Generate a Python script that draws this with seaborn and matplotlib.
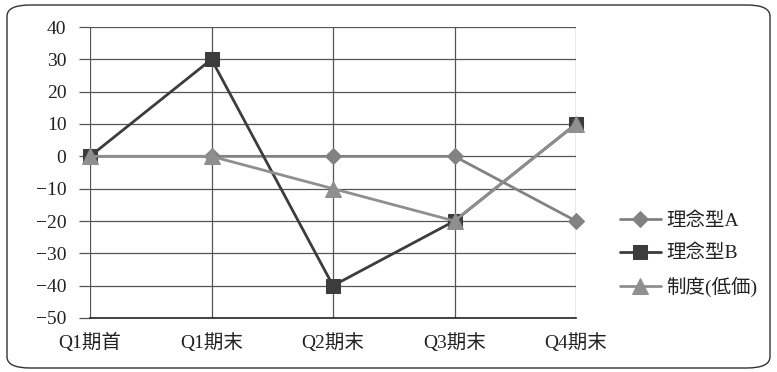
import matplotlib
matplotlib.use("Agg")
import matplotlib.pyplot as plt
from matplotlib.patches import FancyBboxPatch
import seaborn as sns
import pandas as pd

categories = ["Q1期首", "Q1期末", "Q2期末", "Q3期末", "Q4期末"]
series_a = [0, 0, 0, 0, -20]
series_b = [0, 30, -40, -20, 10]
series_c = [0, 0, -10, -20, 10]
names = ["理念型A", "理念型B", "制度(低価)"]
y_ticks = [40, 30, 20, 10, 0, -10, -20, -30, -40, -50]

sns.set_theme(style="white")
plt.rcParams["font.family"] = ["Liberation Serif", "Noto Sans CJK JP"]
plt.rcParams["axes.unicode_minus"] = True

fig = plt.figure(figsize=(7.77, 3.72), dpi=100)
fig.patch.set_facecolor("white")
ax = fig.add_axes([90 / 777, 1 - 318 / 372, (576 - 90) / 777, (318 - 27) / 372])

border = FancyBboxPatch((7 / 777, 4 / 372), (770 - 7) / 777, (367 - 4) / 372,
                        boxstyle="round,pad=0,rounding_size=0.03",
                        transform=fig.transFigure, fill=False,
                        edgecolor="#333333", linewidth=1.0, zorder=0)
fig.patches.append(border)

df = pd.DataFrame({
    "x": list(range(len(categories))) * 3,
    "y": series_a + series_b + series_c,
    "s": [names[0]] * 5 + [names[1]] * 5 + [names[2]] * 5,
})

styles = [
    (names[0], "#828282", "D", 8),
    (names[1], "#3c3c3c", "s", 10.5),
    (names[2], "#8f8f8f", "^", 11.5),
]
for name, color, marker, ms in styles:
    sub = df[df["s"] == name]
    sns.lineplot(data=sub, x="x", y="y", ax=ax, color=color, marker=marker,
                 markersize=ms, markeredgecolor=color, linewidth=2,
                 label=name, sort=False, zorder=3)
for line in ax.get_lines():
    line.set_clip_on(False)

ax.set_xlim(0, 4)
ax.set_ylim(-50, 40)
ax.set_yticks(y_ticks)
ax.set_yticklabels([("−" + str(-v)) if v < 0 else str(v) for v in y_ticks])
ax.set_xticks(range(len(categories)))
ax.set_xticklabels(categories)
ax.set_xlabel("")
ax.set_ylabel("")
ax.grid(True, color="#555555", linewidth=0.9)
ax.set_axisbelow(True)
for side in ["top", "right", "left"]:
    ax.spines[side].set_visible(False)
ax.spines["bottom"].set_color("#222222")
ax.spines["bottom"].set_linewidth(1.2)
ax.tick_params(axis="y", length=8, width=0.9, color="#555555", labelsize=14, pad=9, left=True)
ax.tick_params(axis="x", length=0, labelsize=14, pad=11)
for lbl in ax.get_yticklabels() + ax.get_xticklabels():
    lbl.set_color("#222222")

leg = ax.legend(loc="center left", bbox_to_anchor=(612 / 777, 1 - 255 / 372),
                bbox_transform=fig.transFigure, frameon=False, fontsize=14,
                handlelength=2.1, labelspacing=0.75, handletextpad=0.3, borderaxespad=0)
for t in leg.get_texts():
    t.set_color("#222222")

fig.savefig("out.png", dpi=100, facecolor="white")
